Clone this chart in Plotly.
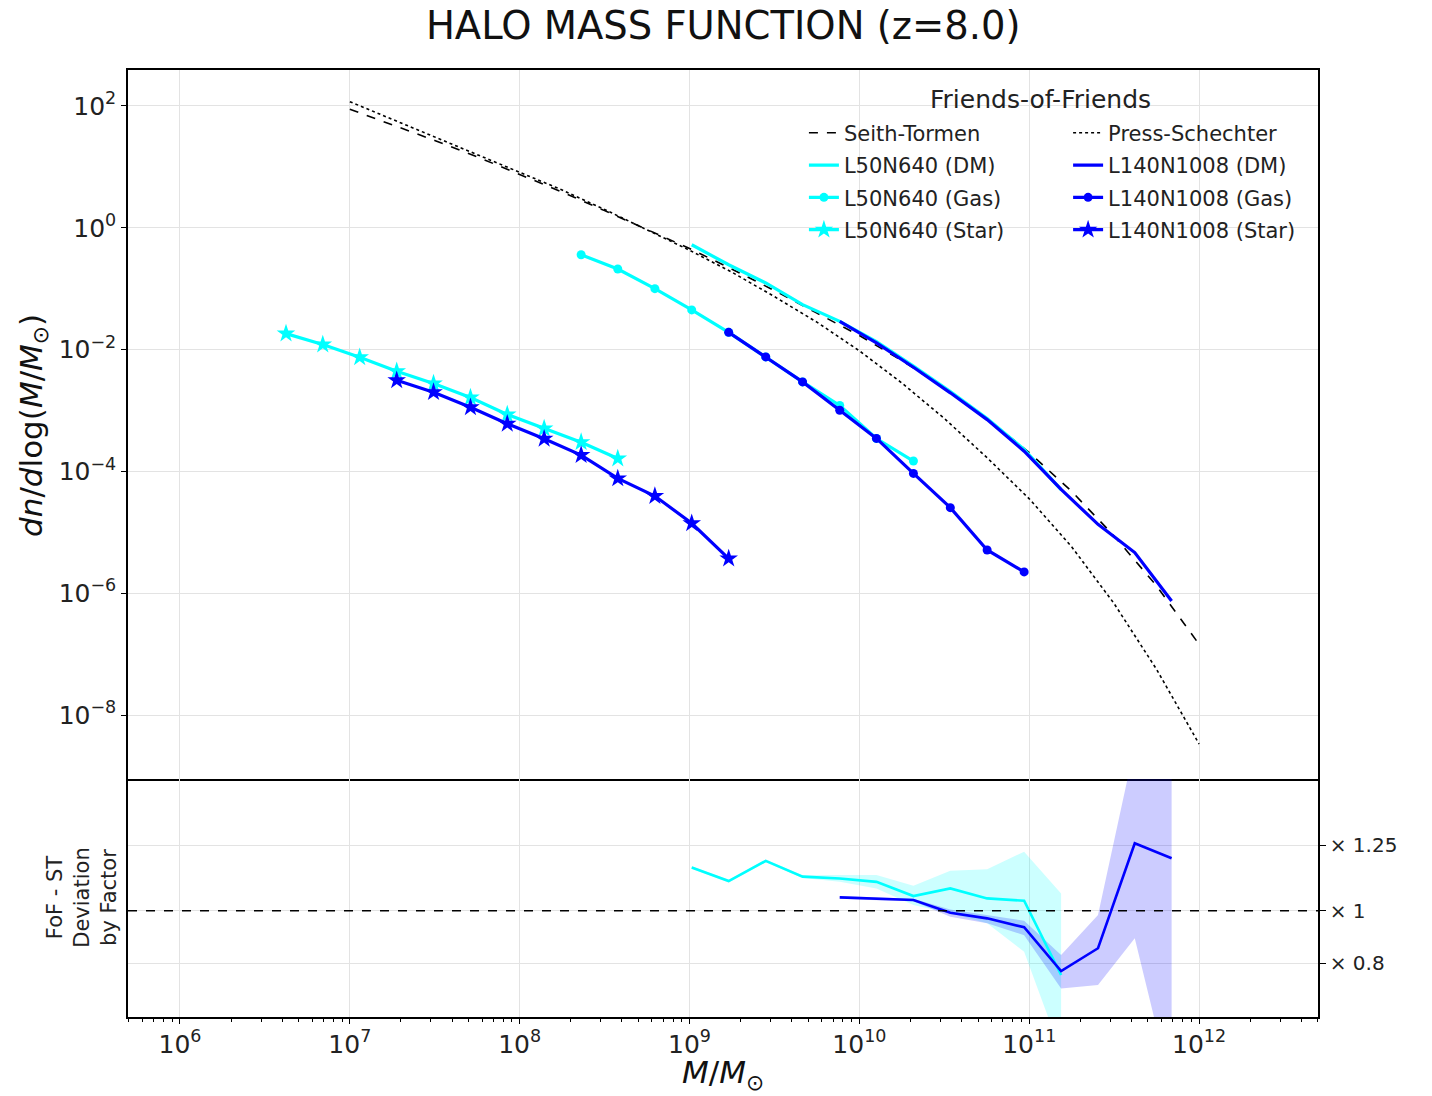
import plotly.graph_objects as go

# ---------------- data ----------------
# theory curves
M_theory = [1e7, 1.78e7, 3.16e7, 5.62e7, 1e8, 1.78e8, 3.16e8, 5.62e8, 1e9, 1.78e9, 3.16e9,
            5.62e9, 1e10, 1.78e10, 3.16e10, 5.62e10, 1e11, 1.78e11, 3.16e11, 5.62e11, 1e12]
n_ST = [88.3, 49.0, 27.2, 14.6, 7.59, 3.85, 1.91, 0.933, 0.457, 0.209, 0.0933,
        0.0398, 0.0170, 6.61e-3, 2.34e-3, 7.41e-4, 2.04e-4, 4.68e-5, 8.71e-6, 1.32e-6, 1.45e-7]
n_PS = [117.5, 60.3, 30.9, 16.2, 8.32, 4.17, 2.0, 0.933, 0.427, 0.186, 0.0741,
        0.0282, 9.55e-3, 2.82e-3, 7.41e-4, 1.70e-4, 3.55e-5, 5.75e-6, 6.76e-7, 5.62e-8, 3.35e-9]

# L50N640
M_L50_DM = [1.03e9, 1.70e9, 2.81e9, 4.63e9, 7.66e9, 1.26e10, 2.08e10, 3.43e10, 5.65e10, 9.33e10, 1.54e11]
n_L50_DM = [0.526, 0.247, 0.124, 0.0547, 0.0291, 0.0135, 5.37e-3, 2.04e-3, 7.41e-4, 2.29e-4, 5.01e-5]
M_L50_Gas = [2.30e8, 3.78e8, 6.25e8, 1.03e9, 1.70e9, 2.81e9, 4.63e9, 7.66e9, 1.26e10, 2.08e10]
n_L50_Gas = [0.3606, 0.2104, 0.100, 0.0448, 0.0192, 7.59e-3, 2.95e-3, 1.21e-3, 3.47e-4, 1.48e-4]
M_L50_Star = [4.21e6, 6.93e6, 1.143e7, 1.888e7, 3.11e7, 5.13e7, 8.45e7, 1.393e8, 2.30e8, 3.78e8]
n_L50_Star = [1.83e-2, 1.21e-2, 7.48e-3, 4.41e-3, 2.77e-3, 1.63e-3, 8.59e-4, 5.07e-4, 3.02e-4, 1.63e-4]

# L140N1008
M_L140_DM = [7.66e9, 1.26e10, 2.08e10, 3.43e10, 5.65e10, 9.33e10, 1.54e11, 2.54e11, 4.18e11, 6.89e11]
n_L140_DM = [0.0291, 0.01288, 5.13e-3, 1.95e-3, 7.08e-4, 2.15e-4, 5.07e-5, 1.35e-5, 4.65e-6, 7.48e-7]
M_L140_Gas = [1.70e9, 2.81e9, 4.63e9, 7.66e9, 1.26e10, 2.08e10, 3.43e10, 5.65e10, 9.33e10]
n_L140_Gas = [0.0192, 7.59e-3, 2.95e-3, 1.01e-3, 3.48e-4, 9.27e-5, 2.54e-5, 5.13e-6, 2.24e-6]
M_L140_Star = [1.888e7, 3.11e7, 5.13e7, 8.45e7, 1.393e8, 2.30e8, 3.78e8, 6.25e8, 1.03e9, 1.70e9]
n_L140_Star = [3.14e-3, 2.0e-3, 1.13e-3, 6.05e-4, 3.44e-4, 1.85e-4, 7.67e-5, 3.94e-5, 1.41e-5, 3.71e-6]

# deviation FoF / ST (bottom panel)
M_ratio_L50 = [1.03e9, 1.70e9, 2.81e9, 4.63e9, 7.66e9, 1.26e10, 2.08e10, 3.43e10, 5.65e10, 9.33e10, 1.54e11]
ratio_L50 = [1.165, 1.113, 1.190, 1.130, 1.123, 1.110, 1.056, 1.085, 1.047, 1.038, 0.755]
ratio_L50_hi = [1.170, 1.118, 1.195, 1.135, 1.136, 1.136, 1.095, 1.152, 1.158, 1.225, 1.066]
ratio_L50_lo = [1.160, 1.108, 1.185, 1.125, 1.110, 1.085, 1.022, 0.990, 0.952, 0.844, 0.46]
M_ratio_L140 = [7.66e9, 1.26e10, 2.08e10, 3.43e10, 5.65e10, 9.33e10, 1.54e11, 2.54e11, 4.18e11, 6.89e11]
ratio_L140 = [1.051, 1.045, 1.041, 0.992, 0.971, 0.937, 0.770, 0.857, 1.257, 1.200]
ratio_L140_hi = [1.056, 1.050, 1.046, 1.005, 0.984, 0.962, 0.831, 0.984, 1.63, 1.80]
ratio_L140_lo = [1.046, 1.040, 1.036, 0.977, 0.952, 0.907, 0.704, 0.717, 0.895, 0.32]

# tick labels
hmf_tickvals = [1e-8, 1e-6, 1e-4, 1e-2, 1e0, 1e2]
hmf_ticktext = ["10<sup>−8</sup>", "10<sup>−6</sup>", "10<sup>−4</sup>", "10<sup>−2</sup>",
                "10<sup>0</sup>", "10<sup>2</sup>"]
ratio_tickvals = [0.8, 1.0, 1.25]
ratio_ticktext = ["× 0.8", "× 1", "× 1.25"]

# ---------------- styles ----------------
CYAN = "#00FFFF"
BLUE = "#0000FF"
FONT = "DejaVu Sans"

fig = go.Figure()

def main_trace(x, y, name, color, legend, mode="lines", symbol=None, msize=8, dash=None, width=3.2):
    t = go.Scatter(x=x, y=y, name=name, mode=mode, legend=legend, legendgroup=name,
                   line=dict(color=color, width=width, dash=dash),
                   xaxis="x", yaxis="y")
    if symbol:
        t.marker = dict(symbol=symbol, size=msize, color=color, line=dict(width=0))
    return t

# legend column 1
fig.add_trace(main_trace(M_theory, n_ST, "Seith-Tormen", "black", "legend", dash="dash", width=1.6))
fig.add_trace(main_trace(M_L50_DM, n_L50_DM, "L50N640 (DM)", CYAN, "legend"))
fig.add_trace(main_trace(M_L50_Gas, n_L50_Gas, "L50N640 (Gas)", CYAN, "legend", mode="lines+markers", symbol="circle", msize=9))
fig.add_trace(main_trace(M_L50_Star, n_L50_Star, "L50N640 (Star)", CYAN, "legend", mode="lines+markers", symbol="star", msize=14))
# legend column 2
fig.add_trace(main_trace(M_theory, n_PS, "Press-Schechter", "black", "legend2", dash="dot", width=1.6))
fig.add_trace(main_trace(M_L140_DM, n_L140_DM, "L140N1008 (DM)", BLUE, "legend2"))
fig.add_trace(main_trace(M_L140_Gas, n_L140_Gas, "L140N1008 (Gas)", BLUE, "legend2", mode="lines+markers", symbol="circle", msize=9))
fig.add_trace(main_trace(M_L140_Star, n_L140_Star, "L140N1008 (Star)", BLUE, "legend2", mode="lines+markers", symbol="star", msize=14))

# bottom panel bands
fig.add_trace(go.Scatter(x=M_ratio_L50 + M_ratio_L50[::-1], y=ratio_L50_hi + ratio_L50_lo[::-1],
                         fill="toself", fillcolor="rgba(0,255,255,0.2)", line=dict(width=0),
                         mode="lines", showlegend=False, hoverinfo="skip", xaxis="x2", yaxis="y2"))
fig.add_trace(go.Scatter(x=M_ratio_L140 + M_ratio_L140[::-1], y=ratio_L140_hi + ratio_L140_lo[::-1],
                         fill="toself", fillcolor="rgba(0,0,255,0.2)", line=dict(width=0),
                         mode="lines", showlegend=False, hoverinfo="skip", xaxis="x2", yaxis="y2"))
fig.add_trace(go.Scatter(x=M_ratio_L50, y=ratio_L50, mode="lines", line=dict(color=CYAN, width=2.6),
                         showlegend=False, xaxis="x2", yaxis="y2"))
fig.add_trace(go.Scatter(x=M_ratio_L140, y=ratio_L140, mode="lines", line=dict(color=BLUE, width=2.6),
                         showlegend=False, xaxis="x2", yaxis="y2"))

# reference line at x1
fig.add_shape(type="line", xref="x2 domain", yref="y2", x0=0, x1=1, y0=1, y1=1,
              line=dict(color="black", width=1.6, dash="dash"))

GRID = "#e3e3e3"
xcommon = dict(type="log", range=[5.694, 12.70], showgrid=True, gridcolor=GRID, gridwidth=1,
               showline=True, linecolor="black", linewidth=1.5,
               dtick=1, zeroline=False)

legend_common = dict(font=dict(family=FONT, size=21, color="#222"), bgcolor="rgba(0,0,0,0)",
                     borderwidth=0, xanchor="left", yanchor="top", tracegroupgap=2,
                     traceorder="grouped")

TOP_DOMAIN = 0.2513

fig.update_layout(
    width=1432, height=1096,
    margin=dict(l=128, r=114, t=70, b=79),
    paper_bgcolor="white", plot_bgcolor="white",
    font=dict(family=FONT, size=20, color="#222"),
    title=dict(text="HALO MASS FUNCTION (z=8.0)", x=0.505, xanchor="center", y=0.977, yanchor="middle",
               font=dict(family=FONT, size=38.5, color="#111")),
    xaxis=dict(**xcommon, mirror=True, anchor="y", domain=[0, 1], showticklabels=False, ticks="",
               matches="x2"),
    xaxis2=dict(**xcommon, mirror=False, anchor="y2", domain=[0, 1], ticks="outside", ticklen=5,
                tickwidth=1.2, tickcolor="black", exponentformat="power", showexponent="all",
                tickfont=dict(family=FONT, size=20, color="#222"),
                minor=dict(ticks="outside", ticklen=3, tickcolor="black", tickwidth=1, showgrid=False)),
    yaxis=dict(type="log", range=[-9.05, 2.59], domain=[TOP_DOMAIN, 1], anchor="x",
               tickmode="array", tickvals=hmf_tickvals, ticktext=hmf_ticktext,
               showgrid=True, gridcolor=GRID, gridwidth=1, zeroline=False,
               showline=True, mirror=True, linecolor="black", linewidth=1.5,
               ticks="outside", ticklen=5, tickwidth=1.2, tickcolor="black",
               tickfont=dict(family=FONT, size=25, color="#222")),
    yaxis2=dict(range=[0.595, 1.502], domain=[0, TOP_DOMAIN], anchor="x2", side="right",
                tickmode="array", tickvals=ratio_tickvals, ticktext=ratio_ticktext,
                showgrid=True, gridcolor=GRID, gridwidth=1, zeroline=False,
                showline=True, mirror=True, linecolor="black", linewidth=1.5,
                ticks="outside", ticklen=6, tickwidth=1.2, tickcolor="black",
                tickfont=dict(family=FONT, size=20, color="#222")),
    legend=dict(**legend_common, x=0.568, y=0.955),
    legend2=dict(**legend_common, x=0.79, y=0.955),
    showlegend=True,
)

# legend title and axis titles as annotations
fig.add_annotation(text="Friends-of-Friends", xref="paper", yref="paper", x=0.767, y=0.969,
                   xanchor="center", yanchor="middle", showarrow=False,
                   font=dict(family=FONT, size=25, color="#222"))
fig.add_annotation(text="<i>dn</i>/<i>d</i>log(<i>M</i>/<i>M</i><sub>⊙</sub>)", xref="paper", yref="paper",
                   x=-0.080, y=0.625, xanchor="center", yanchor="middle", textangle=-90, showarrow=False,
                   font=dict(family=FONT, size=31, color="#111"))
fig.add_annotation(text="FoF - ST<br>Deviation<br>by Factor", xref="paper", yref="paper",
                   x=-0.038, y=0.1257, xanchor="center", yanchor="middle", textangle=-90, showarrow=False,
                   align="center", font=dict(family=FONT, size=21, color="#222"))
fig.add_annotation(text="<i>M</i>/<i>M</i><sub>⊙</sub>", xref="paper", yref="paper",
                   x=0.5, y=-0.061, xanchor="center", yanchor="middle", showarrow=False,
                   font=dict(family=FONT, size=31, color="#111"))

fig.write_html("out.html")
